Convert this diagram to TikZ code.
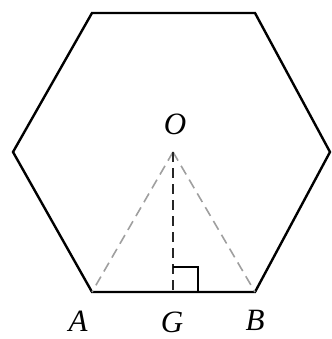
\documentclass[tikz,border=0pt]{standalone}
\usepackage{fontspec}
\setmainfont{Liberation Serif}
\begin{document}
\begin{tikzpicture}[x=1pt,y=-1pt,
  edge/.style={line width=2.4pt,line join=miter,black},
  dline/.style={line width=1.6pt,dash pattern=on 10pt off 6pt,gray!75},
  vline/.style={line width=1.6pt,dash pattern=on 10pt off 6pt,black!85},
  lab/.style={inner sep=0pt,font=\fontsize{31}{35}\selectfont\itshape}]
\useasboundingbox (0,0) rectangle (331,339);
\coordinate (P1) at (92,13);
\coordinate (P2) at (255,13);
\coordinate (P3) at (330,152);
\coordinate (B) at (255,292);
\coordinate (A) at (92,292);
\coordinate (P6) at (13,152);
\coordinate (O) at (173,152);
\coordinate (G) at (173,292);
\draw[edge] (P1) -- (P2) -- (P3) -- (B) -- (A) -- (P6) -- cycle;
\draw[dline] (O) -- (A);
\draw[dline] (O) -- (B);
\draw[vline] (O) -- (G);
\draw[line width=1.6pt] ([yshift=25pt]G) -- ([xshift=25pt,yshift=25pt]G) -- ([xshift=25pt]G);
\node[lab] (lO) at (175,124) {O};
\node[lab] (lA) at (78,321) {A};
\node[lab] (lG) at (172,322) {G};
\node[lab] (lB) at (255,320) {B};
\end{tikzpicture}
\end{document}
